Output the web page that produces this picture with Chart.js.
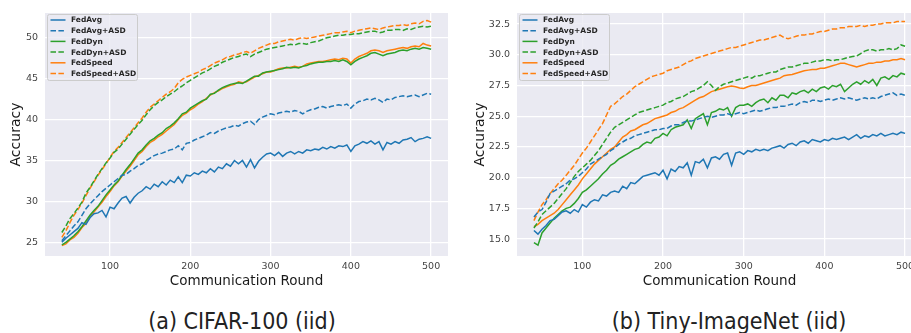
<!DOCTYPE html>
<html>
<head>
<meta charset="utf-8">
<script src="https://cdn.jsdelivr.net/npm/chart.js@4"></script>
<style>
  html, body { margin: 0; padding: 0; background: #fff; overflow: hidden; }
  body { width: 911px; height: 333px; position: relative; font-family: "DejaVu Sans", sans-serif; }
  .panel { position: absolute; top: 0; height: 300px; }
  #leftPanel { left: 0; width: 460px; }
  #rightPanel { left: 460px; width: 462px; }
  .caption {
    position: absolute; top: 308px; width: 300px; text-align: center;
    font-family: "DejaVu Sans Condensed", "Liberation Sans Narrow", "DejaVu Sans", sans-serif;
    font-stretch: condensed; font-size: 23px; line-height: 26px; color: #222;
  }
</style>
</head>
<body>
<div class="panel" id="leftPanel"><canvas id="cifar" width="460" height="300"></canvas></div>
<div class="panel" id="rightPanel"><canvas id="tiny" width="462" height="300"></canvas></div>
<div class="caption" style="left:92px">(a) CIFAR-100 (iid)</div>
<div class="caption" style="left:579px">(b) Tiny-ImageNet (iid)</div>
<script>
// communication rounds, every 5 rounds
const rounds = [
  40, 45, 50, 55, 60, 65, 70, 75, 80, 85,
  90, 95, 100, 105, 110, 115, 120, 125, 130, 135,
  140, 145, 150, 155, 160, 165, 170, 175, 180, 185,
  190, 195, 200, 205, 210, 215, 220, 225, 230, 235,
  240, 245, 250, 255, 260, 265, 270, 275, 280, 285,
  290, 295, 300, 305, 310, 315, 320, 325, 330, 335,
  340, 345, 350, 355, 360, 365, 370, 375, 380, 385,
  390, 395, 400, 405, 410, 415, 420, 425, 430, 435,
  440, 445, 450, 455, 460, 465, 470, 475, 480, 485,
  490, 495, 500
];

const xTicks = [100, 200, 300, 400, 500];
const cifarYTicks = [25, 30, 35, 40, 45, 50];
const tinyYTicks = [15, 17.5, 20, 22.5, 25, 27.5, 30, 32.5];

// CIFAR-100 (iid)
const cifarFedAvg = [
  25.0, 25.5, 25.9, 26.3, 26.7, 27.4, 27.2, 28.0, 28.5, 28.6,
  28.9, 28.1, 29.3, 29.1, 29.8, 30.4, 30.6, 29.8, 30.5, 31.0,
  31.3, 31.8, 31.5, 32.1, 31.8, 32.4, 32.0, 32.6, 32.3, 33.0,
  32.3, 33.2, 33.1, 33.5, 33.3, 33.7, 33.5, 34.0, 33.6, 34.2,
  34.0, 34.6, 34.3, 35.0, 34.6, 35.0, 34.2, 35.1, 34.1, 34.9,
  35.4, 35.8, 35.9, 35.6, 36.0, 35.5, 35.9, 36.1, 35.8, 36.1,
  35.9, 36.3, 36.2, 36.4, 36.3, 36.6, 36.4, 36.7, 36.5, 36.8,
  36.7, 36.9, 36.1, 36.8, 37.0, 37.3, 37.1, 37.4, 37.0, 37.3,
  36.3, 37.2, 37.0, 37.3, 37.1, 37.5, 37.6, 37.8, 37.3, 37.6,
  37.7, 37.9, 37.7
];
const cifarFedAvgAsd = [
  25.2, 25.8, 26.4, 27.0, 27.5, 28.3, 29.1, 29.7, 30.2, 30.7,
  31.2, 31.6, 32.0, 32.4, 32.8, 33.2, 33.3, 33.7, 34.0, 34.4,
  34.6, 35.0, 35.3, 35.6, 35.8, 35.9, 36.1, 36.3, 36.4, 36.8,
  36.3, 37.1, 37.2, 37.5, 37.7, 37.9, 38.1, 38.4, 38.3, 38.6,
  38.8, 39.0, 39.1, 39.3, 39.2, 39.5, 39.7, 39.8, 39.4, 40.0,
  40.3, 40.5, 40.7, 40.6, 40.8, 40.9, 41.0, 40.9, 41.1, 41.0,
  40.7, 41.0, 41.2, 41.3, 41.5, 41.6, 41.4, 41.6, 41.7, 41.8,
  41.7, 41.9, 41.4, 41.9, 42.2, 42.3, 42.5, 42.4, 42.6, 42.4,
  42.1, 42.5, 42.4, 42.7, 42.8, 42.9, 42.8, 42.9, 43.0, 42.8,
  43.0, 43.2, 43.1
];
const cifarFedDyn = [
  24.7, 25.0, 25.4, 25.8, 26.3, 26.9, 27.6, 28.3, 28.9, 29.4,
  30.1, 30.8, 31.4, 32.0, 32.5, 33.2, 33.9, 34.5, 35.2, 35.9,
  36.3, 36.9, 37.4, 37.7, 38.1, 38.4, 38.9, 39.2, 39.6, 40.1,
  40.7, 40.9, 41.4, 41.7, 42.0, 42.3, 42.5, 43.1, 43.2, 43.6,
  43.9, 44.1, 44.3, 44.4, 44.5, 44.4, 44.7, 45.0, 45.3, 45.3,
  45.7, 45.8, 45.9, 46.0, 46.1, 46.2, 46.4, 46.3, 46.4, 46.3,
  46.5, 46.6, 46.8, 46.9, 47.0, 47.0, 47.1, 47.1, 47.2, 47.1,
  47.3, 47.1, 46.7, 47.1, 47.4, 47.6, 47.8, 48.1, 48.2, 48.0,
  47.8, 48.0, 48.1, 48.2, 48.4, 48.5, 48.4, 48.6, 48.7, 48.6,
  48.8, 48.7, 48.6
];
const cifarFedDynAsd = [
  26.2, 27.0, 27.9, 28.5, 29.2, 29.9, 31.0, 31.7, 32.5, 33.3,
  34.0, 34.7, 35.3, 36.0, 36.4, 37.0, 37.6, 38.2, 38.8, 39.4,
  39.9, 40.6, 41.2, 41.7, 42.1, 42.4, 42.8, 43.1, 43.4, 43.8,
  44.1, 44.5, 44.8, 45.1, 45.4, 45.7, 45.9, 46.2, 46.5, 46.7,
  47.0, 47.2, 47.4, 47.6, 47.7, 47.9, 48.0, 47.7, 48.0, 48.2,
  48.4, 48.6, 48.7, 48.8, 48.9, 49.0, 49.1, 49.2, 49.1, 49.3,
  49.3, 49.2, 49.4, 49.5, 49.6, 49.8, 50.0, 50.1, 50.2, 50.3,
  50.3, 50.4, 50.4, 50.5, 50.5, 50.6, 50.7, 50.8, 50.8, 50.6,
  50.7, 50.9, 50.9, 51.0, 51.0, 50.9, 51.1, 51.0, 51.2, 51.3,
  51.4, 51.3, 51.4
];
const cifarFedSpeed = [
  24.6, 24.8, 25.3, 25.6, 26.1, 26.8, 27.3, 28.2, 28.7, 29.3,
  29.9, 30.6, 31.2, 31.9, 32.4, 33.1, 33.7, 34.3, 35.0, 35.7,
  36.1, 36.7, 37.2, 37.5, 37.9, 38.2, 38.6, 39.0, 39.4, 40.0,
  40.5, 40.8, 41.2, 41.5, 41.9, 42.2, 42.6, 43.0, 43.3, 43.5,
  43.8, 44.0, 44.2, 44.3, 44.6, 44.5, 44.6, 44.9, 45.2, 45.4,
  45.6, 45.8, 45.8, 46.0, 46.2, 46.3, 46.3, 46.4, 46.5, 46.4,
  46.5, 46.8, 46.9, 47.0, 47.1, 47.1, 47.2, 47.3, 47.4, 47.3,
  47.5, 47.4, 46.9, 47.4, 47.7, 47.9, 48.1, 48.4, 48.5, 48.4,
  48.2, 48.4, 48.5, 48.6, 48.7, 48.8, 48.7, 48.9, 49.0, 48.9,
  49.3, 49.1, 49.0
];
const cifarFedSpeedAsd = [
  25.6, 26.4, 27.4, 28.3, 29.0, 29.8, 30.7, 31.6, 32.4, 33.2,
  33.9, 34.6, 35.4, 36.1, 36.6, 37.2, 37.8, 38.4, 39.0, 39.6,
  40.2, 40.9, 41.5, 41.9, 42.3, 42.7, 43.1, 43.4, 43.8, 44.5,
  44.9, 45.2, 45.4, 45.6, 45.8, 46.1, 46.3, 46.6, 46.9, 47.1,
  47.3, 47.6, 47.7, 47.9, 48.0, 48.2, 48.3, 48.1, 48.4, 48.7,
  48.9, 49.1, 49.3, 49.3, 49.5, 49.6, 49.7, 49.8, 49.7, 49.9,
  50.0, 49.9, 50.0, 50.1, 50.2, 50.3, 50.4, 50.5, 50.6, 50.6,
  50.7, 50.8, 50.6, 50.8, 50.9, 51.0, 51.1, 51.2, 51.1, 51.0,
  51.2, 51.3, 51.4, 51.5, 51.5, 51.6, 51.5, 51.7, 51.8, 51.7,
  52.0, 52.1, 51.9
];

// Tiny-ImageNet (iid)
const tinyFedAvg = [
  15.7, 15.4, 15.8, 16.1, 16.5, 16.6, 16.9, 17.2, 17.3, 17.1,
  17.4, 17.2, 17.8, 17.6, 18.0, 18.2, 18.1, 18.6, 18.5, 18.8,
  18.9, 18.8, 19.3, 19.1, 19.6, 19.5, 19.8, 20.1, 20.2, 20.3,
  20.4, 20.2, 20.6, 19.9, 20.7, 20.5, 20.9, 20.8, 21.2, 20.2,
  21.3, 21.2, 21.5, 20.8, 21.6, 21.7, 21.5, 21.9, 22.0, 21.0,
  22.0, 22.1, 21.9, 22.2, 22.1, 22.3, 22.2, 22.3, 22.2, 22.4,
  22.5, 22.6, 22.4, 22.7, 22.8, 22.6, 22.9, 23.0, 22.8, 23.1,
  23.0, 22.9, 23.1, 23.0, 23.2, 23.1, 23.2, 23.3, 23.1, 23.3,
  23.5, 23.2, 23.4, 23.3, 23.5, 23.4, 23.6, 23.4, 23.5, 23.6,
  23.5, 23.7, 23.6
];
const tinyFedAvgAsd = [
  16.8, 17.2, 17.4, 18.0, 18.7, 18.9, 19.1, 19.3, 19.5, 19.8,
  19.9, 20.1, 20.4, 20.7, 21.1, 21.3, 21.5, 21.7, 21.9, 22.2,
  22.4, 22.7, 22.9, 23.1, 23.2, 23.4, 23.5, 23.6, 23.7, 23.8,
  23.9, 23.9, 24.0, 24.0, 24.2, 24.3, 24.3, 24.5, 24.6, 24.6,
  24.7, 24.8, 24.9, 25.0, 24.9, 25.0, 25.1, 25.1, 25.2, 25.1,
  25.2, 25.3, 25.2, 25.3, 25.4, 25.5, 25.4, 25.5, 25.6, 25.7,
  25.7, 25.8, 25.8, 25.9, 26.0, 25.9, 26.1, 26.2, 26.1, 26.3,
  26.3, 26.2, 26.3, 26.4, 26.3, 26.4, 26.5, 26.4, 26.5, 26.4,
  26.3, 26.4, 26.5, 26.4, 26.5, 26.4, 26.6, 26.7, 26.8, 26.9,
  26.7, 26.8, 26.7
];
const tinyFedDyn = [
  14.7, 14.5, 15.5, 15.9, 16.3, 16.7, 17.0, 17.3, 17.5, 17.6,
  17.9, 18.3, 18.8, 19.0, 19.3, 19.6, 19.9, 20.3, 20.6, 21.0,
  21.2, 21.5, 21.7, 21.9, 22.1, 22.3, 22.4, 22.7, 22.9, 22.8,
  23.2, 23.3, 23.6, 23.4, 23.9, 24.1, 24.2, 24.3, 24.7, 24.0,
  24.8, 25.0, 25.2, 24.3, 25.3, 25.4, 25.6, 25.5, 25.7, 25.0,
  25.7, 25.9, 25.9, 26.0, 25.8, 26.1, 26.3, 26.4, 26.1, 26.5,
  26.3, 26.7, 26.7, 26.5, 26.9, 26.8, 27.0, 27.1, 26.9, 27.2,
  27.0, 27.3, 27.4, 27.2, 27.5, 27.4, 27.6, 27.0, 27.3, 27.6,
  27.8, 27.6, 27.9, 27.7, 28.0, 27.5, 28.1, 28.2, 28.0, 28.3,
  28.2, 28.5, 28.4
];
const tinyFedDynAsd = [
  15.9, 16.4, 17.0, 17.3, 17.6, 17.9, 18.3, 18.7, 19.1, 19.6,
  20.1, 20.5, 20.8, 21.1, 21.4, 21.8, 22.2, 22.7, 23.2, 23.7,
  24.1, 24.3, 24.5, 24.7, 24.9, 25.1, 25.3, 25.4, 25.5, 25.6,
  25.7, 25.8, 25.9, 26.1, 26.2, 26.4, 26.5, 26.6, 26.8, 27.0,
  27.1, 27.3, 27.5, 27.8, 27.5, 27.1, 27.4, 27.6, 27.7, 27.8,
  27.9, 28.0, 28.1, 28.2, 28.1, 28.3, 28.3, 28.4, 28.5, 28.6,
  28.6, 28.8, 28.9, 29.0, 29.0, 29.1, 29.2, 29.3, 29.3, 29.4,
  29.5, 29.5, 29.6, 29.6, 29.5, 29.6, 29.6, 29.7, 29.8, 29.85,
  29.9, 30.1, 30.3, 30.4, 30.4, 30.3, 30.4, 30.4, 30.5, 30.4,
  30.5, 30.8, 30.7
];
const tinyFedSpeed = [
  16.0, 16.2, 16.5, 16.7, 16.9, 17.1, 17.4, 17.8, 18.2, 18.6,
  19.0, 19.4, 19.9, 20.3, 20.7, 21.1, 21.4, 21.7, 22.0, 22.3,
  22.5, 22.9, 23.3, 23.5, 23.8, 23.9, 24.1, 24.3, 24.4, 24.6,
  24.8, 24.9, 25.0, 25.1, 25.3, 25.4, 25.6, 25.7, 25.9, 26.1,
  26.3, 26.5, 26.6, 26.8, 27.0, 27.1, 27.2, 27.3, 27.4, 27.45,
  27.4, 27.3, 27.25, 27.4, 27.5, 27.5, 27.6, 27.7, 27.8, 27.9,
  28.0, 28.1, 28.3, 28.35, 28.4, 28.5, 28.6, 28.7, 28.75, 28.8,
  28.8, 28.9, 28.9, 29.0, 29.1, 29.2, 29.3, 29.3, 29.2, 29.1,
  29.0, 29.1, 29.2, 29.3, 29.3, 29.4, 29.4, 29.5, 29.5, 29.6,
  29.6, 29.7, 29.6
];
const tinyFedSpeedAsd = [
  16.5, 17.2, 17.8, 18.2, 18.7, 19.1, 19.5, 19.8, 20.2, 20.6,
  21.0, 21.5, 22.0, 22.4, 22.9, 23.4, 23.9, 24.4, 25.1, 25.8,
  26.0, 26.3, 26.6, 26.8, 27.1, 27.4, 27.6, 27.8, 28.0, 28.2,
  28.3, 28.4, 28.5, 28.7, 28.8, 28.9, 29.0, 29.2, 29.4, 29.5,
  29.7, 29.8, 29.9, 30.0, 30.1, 30.2, 30.3, 30.4, 30.5, 30.6,
  30.6, 30.7, 30.8, 30.9, 31.0, 31.1, 31.2, 31.2, 31.3, 31.4,
  31.5, 31.6, 31.4, 31.3, 31.4, 31.5, 31.6, 31.6, 31.7, 31.7,
  31.8, 31.9, 31.9, 32.0, 32.1, 32.1, 32.2, 32.2, 32.3, 32.3,
  32.3, 32.4, 32.3, 32.4, 32.4, 32.5, 32.5, 32.6, 32.6, 32.6,
  32.7, 32.7, 32.7
];

const BLUE = "#1f77b4";
const GREEN = "#2ca02c";
const ORANGE = "#ff7f0e";
const DASH = [5.5, 2.4];

const buildDatasets = (avg, avgAsd, dyn, dynAsd, speed, speedAsd) => {
  const rows = [
    ["FedAvg", avg, BLUE, []],
    ["FedAvg+ASD", avgAsd, BLUE, DASH],
    ["FedDyn", dyn, GREEN, []],
    ["FedDyn+ASD", dynAsd, GREEN, DASH],
    ["FedSpeed", speed, ORANGE, []],
    ["FedSpeed+ASD", speedAsd, ORANGE, DASH],
  ];
  return rows.map(([label, values, color, dash]) => ({
    label,
    data: values.map((v, i) => ({ x: rounds[i], y: v })),
    borderColor: color,
    borderDash: dash,
    borderWidth: 1.5,
    pointRadius: 0,
    tension: 0,
    fill: false,
  }));
};

// grey seaborn-like plot background
const plotBackground = {
  id: "plotBackground",
  beforeDraw(chart) {
    const { ctx, chartArea } = chart;
    ctx.save();
    ctx.fillStyle = "#eaeaf2";
    ctx.fillRect(chartArea.left, chartArea.top, chartArea.right - chartArea.left, chartArea.bottom - chartArea.top);
    ctx.restore();
  },
};

// legend drawn inside the plot, upper left
const insideLegend = {
  id: "insideLegend",
  afterDatasetsDraw(chart) {
    const { ctx, chartArea } = chart;
    const x0 = chartArea.left + 2.5, y0 = chartArea.top + 1.5, w = 90, h = 66;
    ctx.save();
    ctx.beginPath();
    ctx.roundRect(x0, y0, w, h, 2);
    ctx.fillStyle = "rgba(234,234,242,0.8)";
    ctx.fill();
    ctx.strokeStyle = "#cccccc";
    ctx.lineWidth = 1;
    ctx.stroke();
    ctx.font = "bold 7.5px 'DejaVu Sans'";
    ctx.textBaseline = "middle";
    chart.data.datasets.forEach((ds, i) => {
      const cy = y0 + 5.5 + i * 10.7;
      ctx.beginPath();
      ctx.setLineDash(ds.borderDash);
      ctx.strokeStyle = ds.borderColor;
      ctx.lineWidth = 1.5;
      ctx.moveTo(x0 + 3, cy);
      ctx.lineTo(x0 + 18, cy);
      ctx.stroke();
      ctx.setLineDash([]);
      ctx.fillStyle = "#262626";
      ctx.fillText(ds.label, x0 + 23.5, cy + 0.5);
    });
    ctx.restore();
  },
};

const tickFont = { family: "DejaVu Sans", size: 9.5 };

const createChart = (canvasId, datasets, opts) => {
  new Chart(document.getElementById(canvasId), {
    type: "line",
    data: { datasets },
    options: {
      responsive: false,
      animation: false,
      layout: { padding: { top: 13, right: opts.padRight, left: 0, bottom: 0 } },
      plugins: { legend: { display: false }, tooltip: { enabled: false } },
      scales: {
        x: {
          type: "linear",
          min: 19,
          max: 521,
          afterBuildTicks: (scale) => { scale.ticks = xTicks.map((v) => ({ value: v })); },
          afterFit: (scale) => { scale.height = 44; },
          grid: { color: "#ffffff", lineWidth: 1.3, drawTicks: false },
          border: { display: false },
          ticks: { padding: 5, font: tickFont, color: "#444", maxRotation: 0 },
          title: {
            display: true,
            text: "Communication Round",
            font: { family: "DejaVu Sans", size: 13.5 },
            color: "#1a1a1a",
            padding: { top: 0, bottom: 10 },
          },
        },
        y: {
          min: opts.yMin,
          max: opts.yMax,
          afterBuildTicks: (scale) => { scale.ticks = opts.yTicks.map((v) => ({ value: v })); },
          afterFit: (scale) => { scale.width = opts.axisWidth; },
          grid: { color: "#ffffff", lineWidth: 1.3, drawTicks: false },
          border: { display: false },
          ticks: {
            padding: 7,
            font: tickFont,
            color: "#444",
            callback: (v) => v.toFixed(opts.decimals),
          },
          title: {
            display: true,
            text: "Accuracy",
            font: { family: "DejaVu Sans", size: 14 },
            color: "#1a1a1a",
            padding: { top: opts.titlePad, bottom: 0 },
          },
        },
      },
    },
    plugins: [plotBackground, insideLegend],
  });
};

createChart(
  "cifar",
  buildDatasets(cifarFedAvg, cifarFedAvgAsd, cifarFedDyn, cifarFedDynAsd, cifarFedSpeed, cifarFedSpeedAsd),
  { yMin: 23.33, yMax: 53.02, yTicks: cifarYTicks, decimals: 0, axisWidth: 45, padRight: 12, titlePad: 8 }
);
createChart(
  "tiny",
  buildDatasets(tinyFedAvg, tinyFedAvgAsd, tinyFedDyn, tinyFedDynAsd, tinyFedSpeed, tinyFedSpeedAsd),
  { yMin: 13.62, yMax: 33.4, yTicks: tinyYTicks, decimals: 1, axisWidth: 57, padRight: 0, titlePad: 11.5 }
);
</script>
</body>
</html>
